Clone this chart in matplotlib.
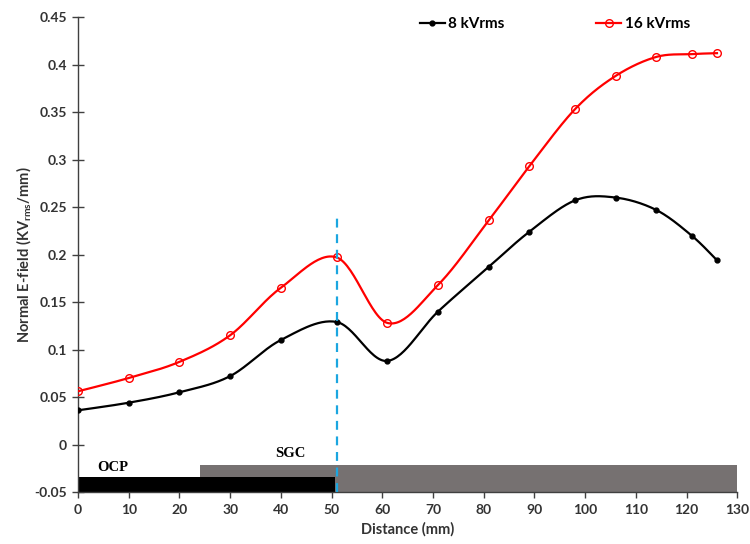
import numpy as np
import matplotlib
matplotlib.use("Agg")
import matplotlib.pyplot as plt

plt.rcParams['font.family'] = ['Lato', 'DejaVu Sans']

distance = [0, 10, 20, 30, 40, 51, 61, 71, 81, 89, 98, 106, 114, 121, 126]
e_8kv = [0.036, 0.044, 0.055, 0.072, 0.110, 0.129, 0.088, 0.140, 0.187, 0.224,
         0.257, 0.260, 0.247, 0.220, 0.194]
e_16kv = [0.056, 0.070, 0.087, 0.115, 0.165, 0.197, 0.128, 0.168, 0.236, 0.293,
          0.353, 0.388, 0.408, 0.411, 0.412]
ocp_span = (0, 50.6)
sgc_span = (24.1, 130)
interface_x = 51
xticks = list(range(0, 131, 10))
yticks = [-0.05, 0, 0.05, 0.1, 0.15, 0.2, 0.25, 0.3, 0.35, 0.4, 0.45]
ytick_labels = ['-0.05', '0', '0.05', '0.1', '0.15', '0.2', '0.25', '0.3', '0.35', '0.4', '0.45']


def smooth(x, y, n=30):
    x = np.asarray(x, float)
    y = np.asarray(y, float)
    P = np.column_stack([x, y])
    out = []
    m = len(P)
    for i in range(m - 1):
        p0 = P[i - 1] if i > 0 else P[i]
        p1 = P[i]
        p2 = P[i + 1]
        p3 = P[i + 2] if i + 2 < m else P[i + 1]
        c1 = p1 + (p2 - p0) / 6.0
        c2 = p2 - (p3 - p1) / 6.0
        t = np.linspace(0, 1, n, endpoint=(i == m - 2))[:, None]
        seg = ((1 - t) ** 3) * p1 + 3 * ((1 - t) ** 2) * t * c1 + 3 * (1 - t) * t ** 2 * c2 + t ** 3 * p2
        out.append(seg)
    out = np.vstack(out)
    return out[:, 0], out[:, 1]


fig = plt.figure(figsize=(7.5, 5.44), dpi=100)
ax = fig.add_axes([0.104, 0.0956, 0.879, 0.873])

# bars at bottom
ax.fill_between([sgc_span[0], sgc_span[1]], -0.05, -0.0218, color='#767171', lw=0, zorder=1)
ax.fill_between([ocp_span[0], ocp_span[1]], -0.05, -0.0345, color='black', lw=0, zorder=2)
ax.text(6.8, -0.0246, 'OCP', family='Liberation Serif', fontweight='bold', fontsize=10.5,
        ha='center', va='center')
ax.text(41.9, -0.0099, 'SGC', family='Liberation Serif', fontweight='bold', fontsize=10.5,
        ha='center', va='center')

sx, sy = smooth(distance, e_8kv)
ax.plot(sx, sy, color='black', lw=1.6, zorder=3)
ax.plot(distance, e_8kv, 'o', color='black', ms=3.5, zorder=4)
sx, sy = smooth(distance, e_16kv)
ax.plot(sx, sy, color='#ff0000', lw=1.6, zorder=3)
ax.plot(distance, e_16kv, 'o', color='#ff0000', mfc='none', mew=1.0, ms=5.5, zorder=4)

ax.plot([interface_x, interface_x], [-0.05, 0.241], color='#1ba6e0', lw=1.6,
        ls=(0, (4, 3)), zorder=5)

# legend handles
h1, = ax.plot([], [], '-o', color='black', ms=3.5, lw=1.6)
h2, = ax.plot([], [], '-o', color='#ff0000', mfc='none', ms=5.5, lw=1.6)
ax.legend([h1, h2], ['8 kVrms', '16 kVrms'], ncol=2, loc='upper left',
          bbox_to_anchor=(0.519, 1.0), frameon=False, columnspacing=6.0,
          handlelength=1.6, handletextpad=0.25, borderpad=0, borderaxespad=0,
          prop={'family': 'Lato', 'weight': 'bold', 'size': 11})

ax.set_xlim(0, 130)
ax.set_ylim(-0.05, 0.45)
ax.set_xticks(xticks)
ax.set_yticks(yticks)
ax.set_yticklabels(ytick_labels)
for s in ['top', 'right']:
    ax.spines[s].set_visible(False)
for s in ['left', 'bottom']:
    ax.spines[s].set_linewidth(1.0)
    ax.spines[s].set_color('#404040')
ax.tick_params(axis='y', direction='inout', length=8, width=1, color='#404040',
               labelsize=10, pad=4)
ax.tick_params(axis='x', direction='out', length=4, width=1, color='#404040',
               labelsize=10, pad=5)
for lab in ax.get_xticklabels() + ax.get_yticklabels():
    lab.set_fontweight('bold')
    lab.set_color('#333333')

ax.set_xlabel('Distance (mm)', fontsize=10.5, fontweight='bold', color='#333333', labelpad=4)
ax.set_ylabel('Normal E-field (KV$_{\\mathregular{rms}}$/mm)', fontsize=10.5, fontweight='bold',
              color='#333333', labelpad=0)

fig.savefig('out.png', dpi=100)
